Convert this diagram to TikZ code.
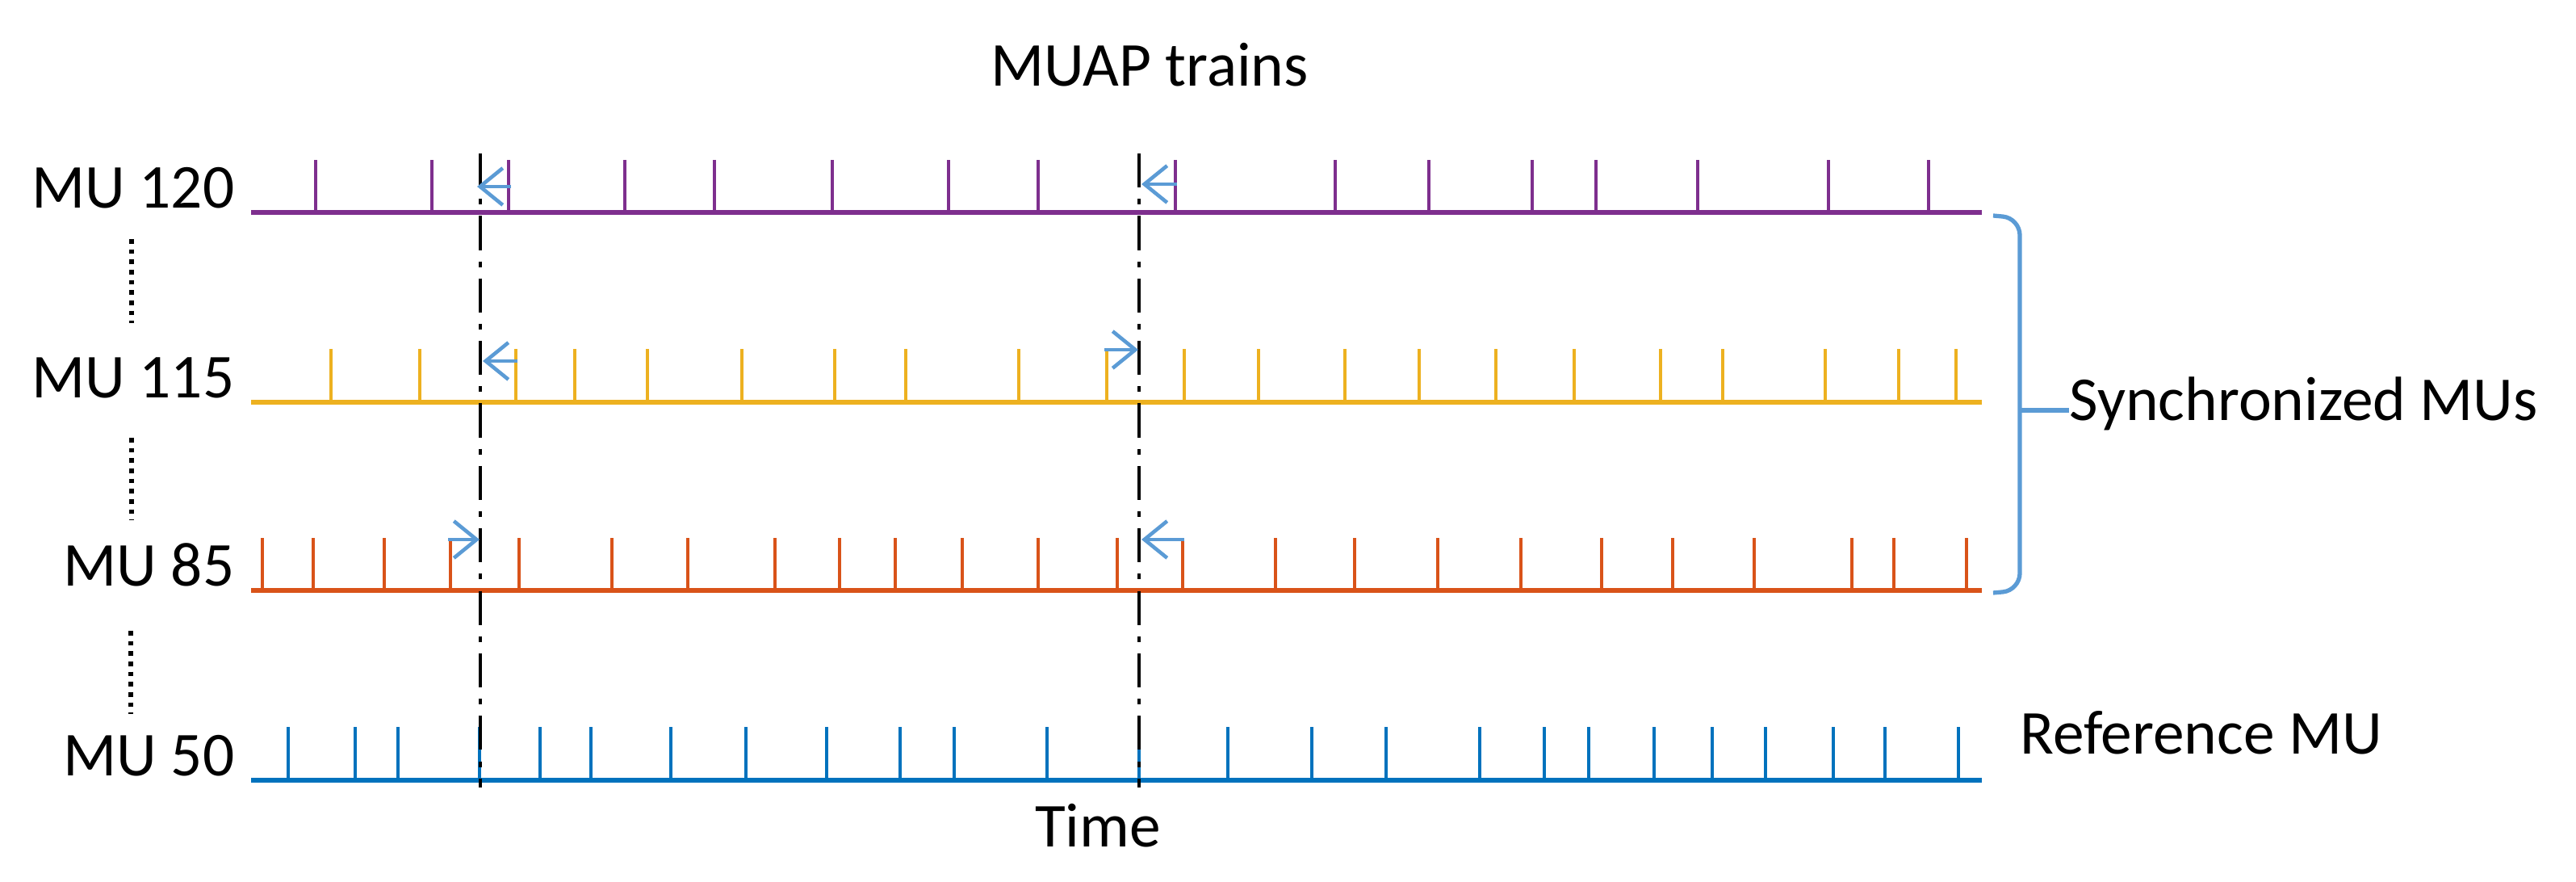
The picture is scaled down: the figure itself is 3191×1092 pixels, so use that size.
\documentclass[tikz,border=0pt]{standalone}
\usepackage{fontspec}
\setmainfont{Carlito}
\usetikzlibrary{positioning, calc, arrows.meta}
\definecolor{muPurple}{HTML}{7E2F8E}
\definecolor{muYellow}{HTML}{EDB120}
\definecolor{muOrange}{HTML}{D95319}
\definecolor{muBlue}{HTML}{0072BD}
\definecolor{shiftBlue}{HTML}{5B9BD5}
\tikzset{
    Train/.style = {line width=1.8pt, draw=#1},
    Spike/.style = {line width=1.3pt, draw=#1},
    SyncLine/.style = {line width=1.2pt, dash pattern=on 12pt off 4pt on 2pt off 4pt},
    Shift/.style = {line width=1.3pt, draw=shiftBlue, -{Straight Barb[length=8pt, width=13pt, line width=1.3pt]}},
    Label/.style = {font=\fontsize{22}{26}\selectfont, inner sep=0pt}
}

\begin{document}
\begin{tikzpicture}[x=0.01cm, y=-0.01cm]
    \useasboundingbox (0,0) rectangle (3191,1092);
    % titles
    \node[Label] (title) at (1424,80) {MUAP trains};
    \node[Label] (time) at (1360,1022) {Time};
    % row labels
    \node[Label, anchor=base east] (L120) at (291,258) {MU 120};
    \node[Label, anchor=base east] (L115) at (291,493) {MU 115};
    \node[Label, anchor=base east] (L85) at (291,726) {MU 85};
    \node[Label, anchor=base east] (L50) at (291,961) {MU 50};
    \draw[line width=1.6pt, dotted] (163,296) -- (163,400);
    \draw[line width=1.6pt, dotted] (163,542) -- (163,644);
    \draw[line width=1.6pt, dotted] (162,781) -- (162,884);
    % spike trains
    \draw[Train=muPurple] (311,263) -- (2455,263);
    \foreach \x in {391,535,630,774,885,1031,1175,1286,1456,1654,1770,1898,1977,2103,2265,2389}
        \draw[Spike=muPurple] (\x,263) -- (\x,198);
    \draw[Train=muYellow] (311,498) -- (2455,498);
    \foreach \x in {410,520,639,712,802,919,1034,1122,1262,1371,1467,1559,1666,1758,1853,1950,2057,2134,2261,2352,2423}
        \draw[Spike=muYellow] (\x,498) -- (\x,432);
    \draw[Train=muOrange] (311,731) -- (2455,731);
    \foreach \x in {325,388,476,558,643,758,852,960,1040,1109,1192,1286,1384,1465,1580,1678,1781,1884,1984,2072,2173,2294,2346,2436}
        \draw[Spike=muOrange] (\x,731) -- (\x,666);
    \draw[Train=muBlue] (311,966) -- (2455,966);
    \foreach \x in {357,440,493,594,669,732,831,924,1024,1115,1182,1297,1411,1521,1625,1717,1833,1913,1968,2049,2121,2187,2271,2335,2426}
        \draw[Spike=muBlue] (\x,966) -- (\x,900);
    % synchronization instants
    \coordinate (s1) at (595,190);
    \coordinate (s1b) at (595,975);
    \coordinate (s2) at (1411,190);
    \coordinate (s2b) at (1411,975);
    \draw[SyncLine] (s1) -- (s1b);
    \draw[SyncLine] (s2) -- (s2b);
    % shifts towards the reference firings
    \coordinate (p1) at (633,231);  \coordinate (p1e) at (591,231);
    \coordinate (p2) at (1458,228); \coordinate (p2e) at (1414,228);
    \coordinate (y1) at (641,447);  \coordinate (y1e) at (598,447);
    \coordinate (y2) at (1368,433); \coordinate (y2e) at (1410,433);
    \coordinate (o1) at (555,668);  \coordinate (o1e) at (594,668);
    \coordinate (o2) at (1467,668); \coordinate (o2e) at (1414,668);
    \foreach \a in {p1,p2,y1,y2,o1,o2}
        \draw[Shift] (\a) -- (\a e);
    % brace and side labels
    \coordinate (bt) at (2469,267);
    \coordinate (bb) at (2469,734);
    \coordinate (bm) at (2502,508);
    \draw[line width=1.5pt, draw=shiftBlue, rounded corners=6pt]
        (bt) -- (2502,270) -- (2502,731) -- (bb);
    \node[Label, anchor=base west] (sync) at (2563,521) {Synchronized MUs};
    \draw[line width=1.5pt, draw=shiftBlue] (bm) -- (sync.west |- bm);
    \node[Label, anchor=base west] (ref) at (2502,933) {Reference MU};
\end{tikzpicture}
\end{document}
